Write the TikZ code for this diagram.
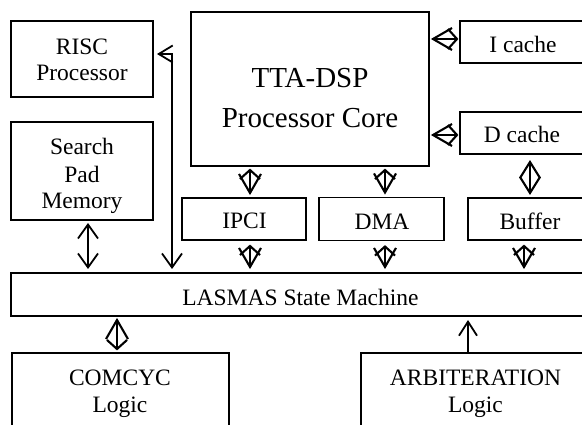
\documentclass[tikz,border=0pt]{standalone}
\usepackage{fontspec}
\setmainfont{Liberation Serif}
\usetikzlibrary{arrows.meta,calc}
\newcommand\xarrowdraw[2]{% #1 = short-head end, #2 = long-head end
  \draw[sarr] (#1) -- (#2);
  \draw[sarr] ($(#2)!22pt!30:(#1)$) -- (#2) -- ($(#2)!22pt!-30:(#1)$);
  \draw[sarr] ($(#1)!13.5pt!48:(#2)$) -- (#1) -- ($(#1)!13.5pt!-48:(#2)$);
}
\newcommand\diamondarrowdraw[2]{%
  \draw[sarr] (#1) -- (#2);
  \draw[sarr] ($(#2)!19pt!32:(#1)$) -- (#2) -- ($(#2)!19pt!-32:(#1)$);
  \draw[sarr] ($(#1)!19pt!32:(#2)$) -- (#1) -- ($(#1)!19pt!-32:(#2)$);
}
\begin{document}
\begin{tikzpicture}[x=1pt,y=-1pt,
  box/.style={draw,line width=1.6pt,rectangle,inner sep=0pt,outer sep=0pt},
  lbl/.style={font=\fontsize{23.5}{27}\selectfont,anchor=base,inner sep=0pt},
  biglbl/.style={font=\fontsize{29}{34}\selectfont,anchor=base,inner sep=0pt},
  sarr/.style={line width=2.1pt,line join=miter},
  bigarr/.style={line width=1.8pt,
    arrows={Straight Barb[length=14pt,width=20pt]-Straight Barb[length=14pt,width=20pt]}},
  onearr/.style={line width=1.8pt,arrows={-Straight Barb[length=14pt,width=18pt]}}]
\useasboundingbox (0,0) rectangle (582,425);
\clip (0,0) rectangle (582,425);
% boxes
\node[box,minimum width=142pt,minimum height=76pt] (risc) at (82,59) {};
\node[box,minimum width=142pt,minimum height=98pt] (spm) at (82,171) {};
\node[box,minimum width=238pt,minimum height=154pt] (tta) at (310,89) {};
\node[box,minimum width=126pt,minimum height=42pt] (icache) at (523,42) {};
\node[box,minimum width=126pt,minimum height=42pt] (dcache) at (523,133) {};
\node[box,minimum width=124pt,minimum height=42pt] (ipci) at (244,219) {};
\node[box,minimum width=125pt,minimum height=43pt] (dma) at (381.5,219) {};
\node[box,minimum width=124pt,minimum height=42pt] (buffer) at (530,219) {};
\node[box,minimum width=579pt,minimum height=43pt] (lasmas) at (300.5,294.5) {};
\node[box,minimum width=217pt,minimum height=87pt] (comcyc) at (120.5,396.5) {};
\node[box,minimum width=229pt,minimum height=87pt] (arb) at (475.5,396.5) {};
% texts
\node[lbl] (riscA) at (82,55) {RISC};
\node[lbl] (riscB) at (82,81) {Processor};
\node[lbl] (spmA) at (82,155) {Search};
\node[lbl] (spmB) at (82,183) {Pad};
\node[lbl] (spmC) at (82,209) {Memory};
\node[biglbl] (ttaA) at (310,88) {TTA-DSP};
\node[biglbl] (ttaB) at (310,128) {Processor Core};
\node[lbl] (icacheT) at (523,53) {I cache};
\node[lbl] (dcacheT) at (522,143) {D cache};
\node[lbl] (ipciT) at (244.5,229) {IPCI};
\node[lbl] (dmaT) at (382,230) {DMA};
\node[lbl] (bufferT) at (530,230) {Buffer};
\node[lbl] (lasmasT) at (300.5,306) {LASMAS State Machine};
\node[lbl] (comcycA) at (120,385) {COMCYC};
\node[lbl] (comcycB) at (120,412) {Logic};
\node[lbl] (arbA) at (475.5,385) {ARBITERATION};
\node[lbl] (arbB) at (475.5,412) {Logic};
% connectors
\coordinate (rl) at (172,0);
\draw[line width=1.8pt,
  arrows={Straight Barb[length=14pt,width=17pt]-Straight Barb[length=14pt,width=20pt]},
  shorten <=4pt,shorten >=4pt]
  ([yshift=5pt]risc.east) -| (rl |- lasmas.north);
\draw[bigarr,shorten <=3pt,shorten >=4pt]
  ([xshift=6pt]spm.south) -- ([xshift=6pt]spm.south |- lasmas.north);
\draw[onearr,shorten >=4pt]
  ([xshift=-7.5pt]arb.north) -- ([xshift=-7.5pt]arb.north |- lasmas.south);
% crossed double arrows
\coordinate (tiA) at ($(tta.south -| ipci.north)+(6,4)$);
\coordinate (tiB) at ($(ipci.north)+(6,-5)$);
\xarrowdraw{tiA}{tiB}
\coordinate (tdA) at ($(tta.south -| dma.north)+(3.5,4)$);
\coordinate (tdB) at ($(dma.north)+(3.5,-5)$);
\xarrowdraw{tdA}{tdB}
\coordinate (icA) at ($(icache.west)+(-3,-3)$);
\coordinate (icB) at ($(icache.west -| tta.east)+(4,-3)$);
\xarrowdraw{icA}{icB}
\coordinate (dcA) at ($(dcache.west)+(-3,2)$);
\coordinate (dcB) at ($(dcache.west -| tta.east)+(4,2)$);
\xarrowdraw{dcA}{dcB}
\coordinate (ilA) at ($(ipci.south)+(6,6)$);
\coordinate (ilB) at ($(ipci.south |- lasmas.north)+(6,-6)$);
\xarrowdraw{ilA}{ilB}
\coordinate (dlA) at ($(dma.south)+(3.5,6)$);
\coordinate (dlB) at ($(dma.south |- lasmas.north)+(3.5,-6)$);
\xarrowdraw{dlA}{dlB}
\coordinate (blA) at ($(buffer.south)+(-6,6)$);
\coordinate (blB) at ($(buffer.south |- lasmas.north)+(-6,-6)$);
\xarrowdraw{blA}{blB}
\coordinate (clA) at ($(comcyc.north)+(-3.5,-4)$);
\coordinate (clB) at ($(comcyc.north |- lasmas.south)+(-3.5,4)$);
\xarrowdraw{clA}{clB}
\coordinate (dbA) at ($(buffer.north |- dcache.south)+(0,8)$);
\coordinate (dbB) at ($(buffer.north)+(0,-5)$);
\diamondarrowdraw{dbA}{dbB}
\end{tikzpicture}
\end{document}
